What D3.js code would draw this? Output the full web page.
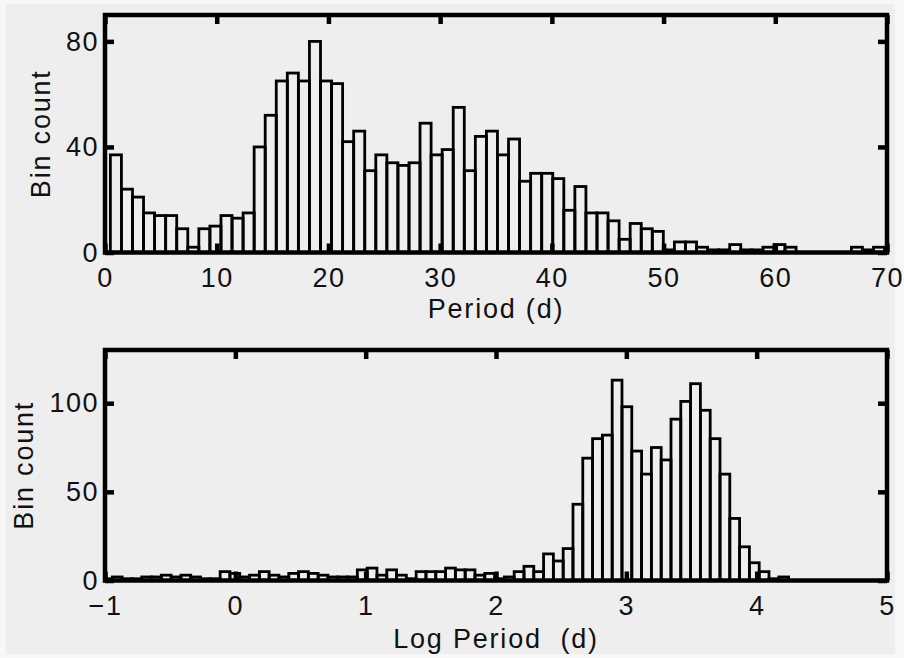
<!DOCTYPE html>
<html>
<head>
<meta charset="utf-8">
<script src="https://cdn.jsdelivr.net/npm/d3@7"></script>
<style>
  body { margin: 0; background: #f7f7f7; }
  svg text { font-family: "Liberation Sans", Arial, Helvetica, sans-serif; fill: #111; }
</style>
</head>
<body>
<div id="chart"></div>
<script>
// histogram of periods, 70 bins
const periodBinStart = 0.48
const periodBinWidth = 0.99
const periodCounts = [37, 24, 21, 15, 14, 14, 9, 2, 9, 10,
    14, 13, 15, 40, 52, 65, 68, 65, 80, 65,
    64, 42, 46, 31, 37, 34, 33, 34, 49, 37,
    39, 55, 31, 44, 46, 37, 43, 27, 30, 30,
    28, 16, 25, 15, 15, 12, 5, 11, 9, 8,
    1, 4, 4, 2, 1, 1, 3, 1, 1, 2,
    3, 2, 0, 0, 0, 0, 0, 2, 1, 2]
const periodTicks = [0, 10, 20, 30, 40, 50, 60, 70]
const periodCountTicks = [0, 40, 80]

// histogram of log periods, 70 bins
const logBinStart = -1.019
const logBinWidth = 0.0752
const logCounts = [1, 2, 1, 1, 2, 2, 3, 2, 3, 2,
    1, 1, 5, 4, 2, 3, 5, 3, 2, 4,
    5, 4, 3, 2, 2, 2, 6, 7, 3, 6,
    3, 1, 5, 5, 5, 7, 6, 6, 3, 4,
    1, 2, 5, 8, 5, 15, 11, 18, 43, 69,
    80, 82, 113, 98, 73, 60, 75, 68, 91, 101,
    111, 96, 80, 60, 35, 19, 10, 5, 1, 2]
const logTicks = [-1, 0, 1, 2, 3, 4, 5]
const logCountTicks = [0, 50, 100]

const W = 904, H = 658
const svg = d3.select("#chart").append("svg").attr("width", W).attr("height", H)
svg.append("rect").attr("x", 6).attr("y", 4).attr("width", 889).attr("height", 650).attr("fill", "#eeeeee")

const left = 105, right = 887

function drawPanel(opts){
    const x = d3.scaleLinear().domain(opts.xDomain).range([left, right])
    const y = d3.scaleLinear().domain(opts.yDomain).range([opts.bottom, opts.top])
    const g = svg.append("g")
    const clipId = "clip" + opts.id
    svg.append("clipPath").attr("id", clipId)
        .append("rect").attr("x", left).attr("y", opts.top).attr("width", right - left).attr("height", opts.bottom - opts.top)

    // bars
    g.append("g").attr("clip-path", `url(#${clipId})`)
        .selectAll("rect").data(opts.counts).join("rect")
        .attr("x", (d, i) => x(opts.binStart + i * opts.binWidth))
        .attr("width", (d, i) => x(opts.binStart + (i + 1) * opts.binWidth) - x(opts.binStart + i * opts.binWidth))
        .attr("y", d => y(d))
        .attr("height", d => y(0) - y(d))
        .attr("fill", "none")
        .attr("stroke", "#000")
        .attr("stroke-width", 2.8)

    // inward ticks on all four sides
    const tickLen = 9
    const axes = [
        [d3.axisBottom(x).tickValues(opts.xTicks).tickFormat(d3.format("")).tickSizeInner(-tickLen).tickPadding(15), `translate(0,${opts.bottom})`, true],
        [d3.axisTop(x).tickValues(opts.xTicks).tickSizeInner(-tickLen), `translate(0,${opts.top})`, false],
        [d3.axisLeft(y).tickValues(opts.yTicks).tickSizeInner(-tickLen).tickPadding(6), `translate(${left},0)`, true],
        [d3.axisRight(y).tickValues(opts.yTicks).tickSizeInner(-tickLen), `translate(${right},0)`, false]
    ]
    axes.forEach(([axis, tr, labels]) => {
        const a = g.append("g").attr("transform", tr).call(axis.tickSizeOuter(0))
        a.select(".domain").remove()
        a.selectAll(".tick line").attr("stroke", "#000").attr("stroke-width", 4.5)
        if (labels){
            a.selectAll(".tick text").attr("font-size", 27).attr("fill", "#111")
                .style("letter-spacing", "1.5px")
                .style("font-family", "'Liberation Sans', Arial, Helvetica, sans-serif")
        } else {
            a.selectAll(".tick text").remove()
        }
    })

    // frame
    g.append("rect")
        .attr("x", left).attr("y", opts.top)
        .attr("width", right - left).attr("height", opts.bottom - opts.top)
        .attr("fill", "none").attr("stroke", "#000").attr("stroke-width", 4.5)

    g.append("text")
        .attr("x", (left + right) / 2).attr("y", opts.xLabelY)
        .attr("text-anchor", "middle").attr("font-size", 27)
        .style("letter-spacing", "1.8px").style("white-space", "pre")
        .text(opts.xLabel)

    g.append("text")
        .attr("transform", `translate(${opts.yLabelX},${(opts.top + opts.bottom) / 2}) rotate(-90)`)
        .attr("text-anchor", "middle").attr("font-size", 27)
        .style("letter-spacing", "1.8px")
        .text("Bin count")
}

drawPanel({
    id: "top", top: 15, bottom: 252.5,
    xDomain: [0, 70], yDomain: [0, 90],
    counts: periodCounts, binStart: periodBinStart, binWidth: periodBinWidth,
    xTicks: periodTicks, yTicks: periodCountTicks,
    xLabel: "Period (d)", xLabelY: 318, yLabelX: 50
})

drawPanel({
    id: "bottom", top: 350, bottom: 580.5,
    xDomain: [-1, 5], yDomain: [0, 130],
    counts: logCounts, binStart: logBinStart, binWidth: logBinWidth,
    xTicks: logTicks, yTicks: logCountTicks,
    xLabel: "Log Period  (d)", xLabelY: 648, yLabelX: 33
})
</script>
</body>
</html>
